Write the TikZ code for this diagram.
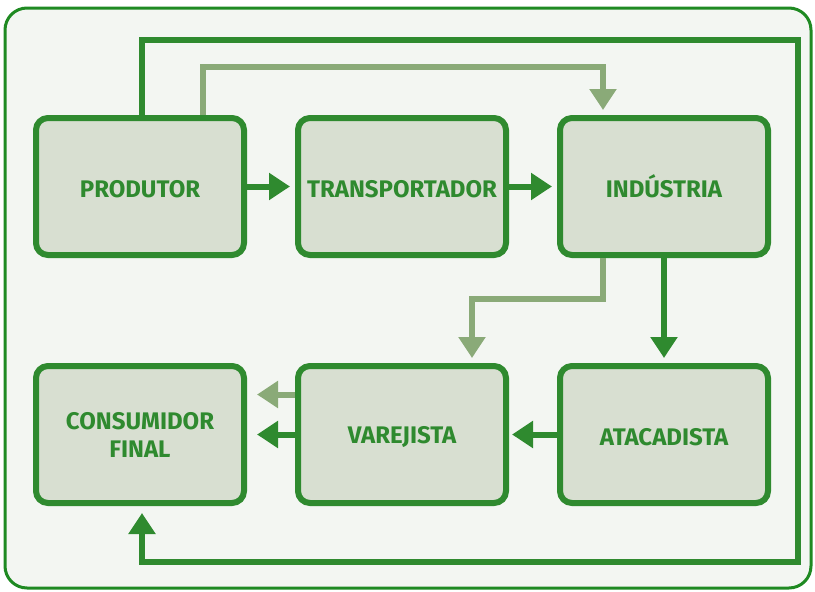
\documentclass[tikz,border=0pt]{standalone}
\usepackage{fontspec}
\setmainfont{Fira Sans}
\usetikzlibrary{arrows.meta,positioning}

\definecolor{verde}{HTML}{2F8A2F}
\definecolor{verdeforte}{HTML}{1F8A22}
\definecolor{claro}{HTML}{8AAA78}
\definecolor{caixa}{HTML}{D8DFD1}
\definecolor{fundo}{HTML}{F3F6F2}

\begin{document}
\begin{tikzpicture}[x=1pt,y=-1pt,>={Triangle[width=26pt,length=21pt]},shorten >=5pt,
  node distance=105pt and 48pt,
  elo/.style={draw=verde,line width=6pt,fill=caixa,rounded corners=12pt,
    minimum width=208pt,minimum height=137pt,align=center,text=verde,
    font=\bfseries\fontsize{24}{28}\selectfont},
  linha/.style={elo,execute at begin node=\vphantom{Ú}},
  fluxo/.style={color=verde,line width=6pt},
  fluxoclaro/.style={color=claro,line width=6pt}]
  \useasboundingbox[fill=white] (0,0) rectangle (815,592);
  \draw[verdeforte,line width=3pt,fill=fundo,rounded corners=22pt] (5,8) rectangle (811,588);

  \node[linha] (prod) at (140,186.5) {PRODUTOR};
  \node[linha] (transp) [right=of prod]   {TRANSPORTADOR};
  \node[linha] (ind)    [right=of transp] {INDÚSTRIA};
  \node[elo]   (cons)   [below=of prod]   {CONSUMIDOR\\FINAL};
  \node[linha] (varej)  [below=of transp] {VAREJISTA};
  \node[linha] (atac)   [below=of ind]    {ATACADISTA};

  \coordinate (canto) at (798,40);

  \path[->,fluxo] (prod)   edge (transp)
                  (transp) edge (ind)
                  (ind)    edge (atac)
                  (atac)   edge [shorten >=3pt] (varej)
                  (varej)  edge [shorten >=10pt] (cons);

  % ciclo externo
  \draw[->,fluxo,shorten >=7pt] ([xshift=2pt]prod.north) |- (canto)
        |- ([xshift=2pt,yshift=-56pt]cons.south) -- ([xshift=2pt]cons.south);

  % fluxos claros
  \draw[->,fluxoclaro] ([xshift=63pt]prod.north) |- ([xshift=-61pt,yshift=48pt]ind.north)
        -- ([xshift=-61pt]ind.north);
  \draw[->,fluxoclaro] ([xshift=-61pt]ind.south) |- ([xshift=70pt,yshift=64pt]varej.north)
        -- ([xshift=70pt]varej.north);
  \draw[->,fluxoclaro,shorten >=10pt] ([yshift=40pt]varej.west) -- ([yshift=40pt]cons.east);
\end{tikzpicture}
\end{document}
